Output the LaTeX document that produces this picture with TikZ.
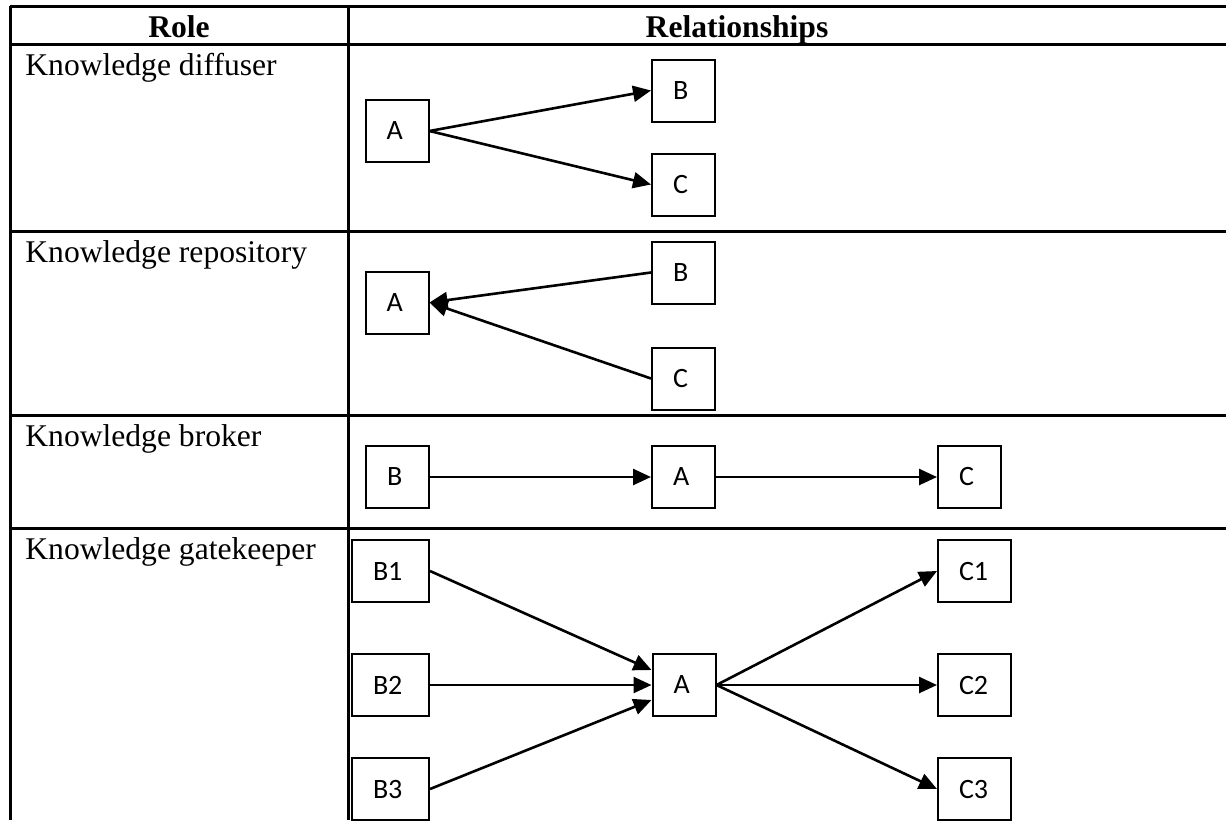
\documentclass[tikz,border=0pt]{standalone}
\usepackage{fontspec}
\setmainfont{Liberation Serif}
\newfontfamily\boxfont{Carlito}
\usetikzlibrary{arrows.meta}
\begin{document}
\begin{tikzpicture}[x=0.5pt,y=-0.5pt,
  grid/.style={line width=1.5pt},
  boxnode/.style={draw, line width=1pt, minimum height=31pt, inner xsep=10.5pt, inner ysep=0pt, align=left, font=\boxfont\fontsize{14}{16}\selectfont},
  wsmall/.style={boxnode, text width=10.5pt},
  wbee/.style={boxnode, text width=17.5pt},
  wcee/.style={boxnode, text width=15.5pt},
  arr/.style={line width=1.3pt, -{Triangle[length=9pt,width=8pt]}},
  role/.style={anchor=base west, font=\fontsize{15.8}{18}\selectfont, inner sep=0pt},
  head/.style={anchor=base, font=\bfseries\fontsize{15.8}{18}\selectfont, inner sep=0pt}]
\useasboundingbox (0,0) rectangle (1226,820);
% table
\draw[grid] (10,6) -- (1226,6);
\draw[grid] (10,44) -- (1226,44);
\draw[grid] (10,231) -- (1226,231);
\draw[grid] (10,415) -- (1226,415);
\draw[grid] (10,528) -- (1226,528);
\draw[grid] (10,6) -- (10,820);
\draw[grid] (348,6) -- (348,820);
% headers
\node[head] (hrole) at (179,37) {Role};
\node[head] (hrel) at (737,37) {Relationships};
% roles
\node[role] (r1) at (25,75) {Knowledge diffuser};
\node[role] (r2) at (25,262) {Knowledge repository};
\node[role] (r3) at (25,446) {Knowledge broker};
\node[role] (r4) at (25,559) {Knowledge gatekeeper};
% row 1
\node[wsmall] (a1) at (397,131) {A};
\node[wsmall] (b1) at (683.5,90.5) {B};
\node[wsmall] (c1) at (683.5,184.5) {C};
\draw[arr] (a1.east) -- (b1.west);
\draw[arr] (a1.east) -- (c1.west);
% row 2
\node[wsmall] (a2) at (397,302.5) {A};
\node[wsmall] (b2) at (683.5,272.5) {B};
\node[wsmall] (c2) at (683.5,378.5) {C};
\draw[arr] (b2.west) -- (a2.east);
\draw[arr] (c2.west) -- (a2.east);
% row 3
\node[wsmall] (b3) at (397.5,477) {B};
\node[wsmall] (a3) at (683.5,477) {A};
\node[wsmall] (c3) at (969.5,477) {C};
\draw[arr] (b3.east) -- (a3.west);
\draw[arr] (a3.east) -- (c3.west);
% row 4
\node[wbee] (gb1) at (390.5,571) {B1};
\node[wbee] (gb2) at (390.5,685) {B2};
\node[wbee] (gb3) at (390.5,789) {B3};
\node[wsmall] (ga) at (684,685) {A};
\node[wcee] (gc1) at (974.5,571) {C1};
\node[wcee] (gc2) at (974.5,685) {C2};
\node[wcee] (gc3) at (974.5,789) {C3};
\draw[arr] (gb1.east) -- ([yshift=7.5pt]ga.west);
\draw[arr] (gb2.east) -- (ga.west);
\draw[arr] (gb3.east) -- ([yshift=-7.5pt]ga.west);
\draw[arr] (ga.east) -- (gc1.west);
\draw[arr] (ga.east) -- (gc2.west);
\draw[arr] (ga.east) -- (gc3.west);
\end{tikzpicture}
\end{document}
